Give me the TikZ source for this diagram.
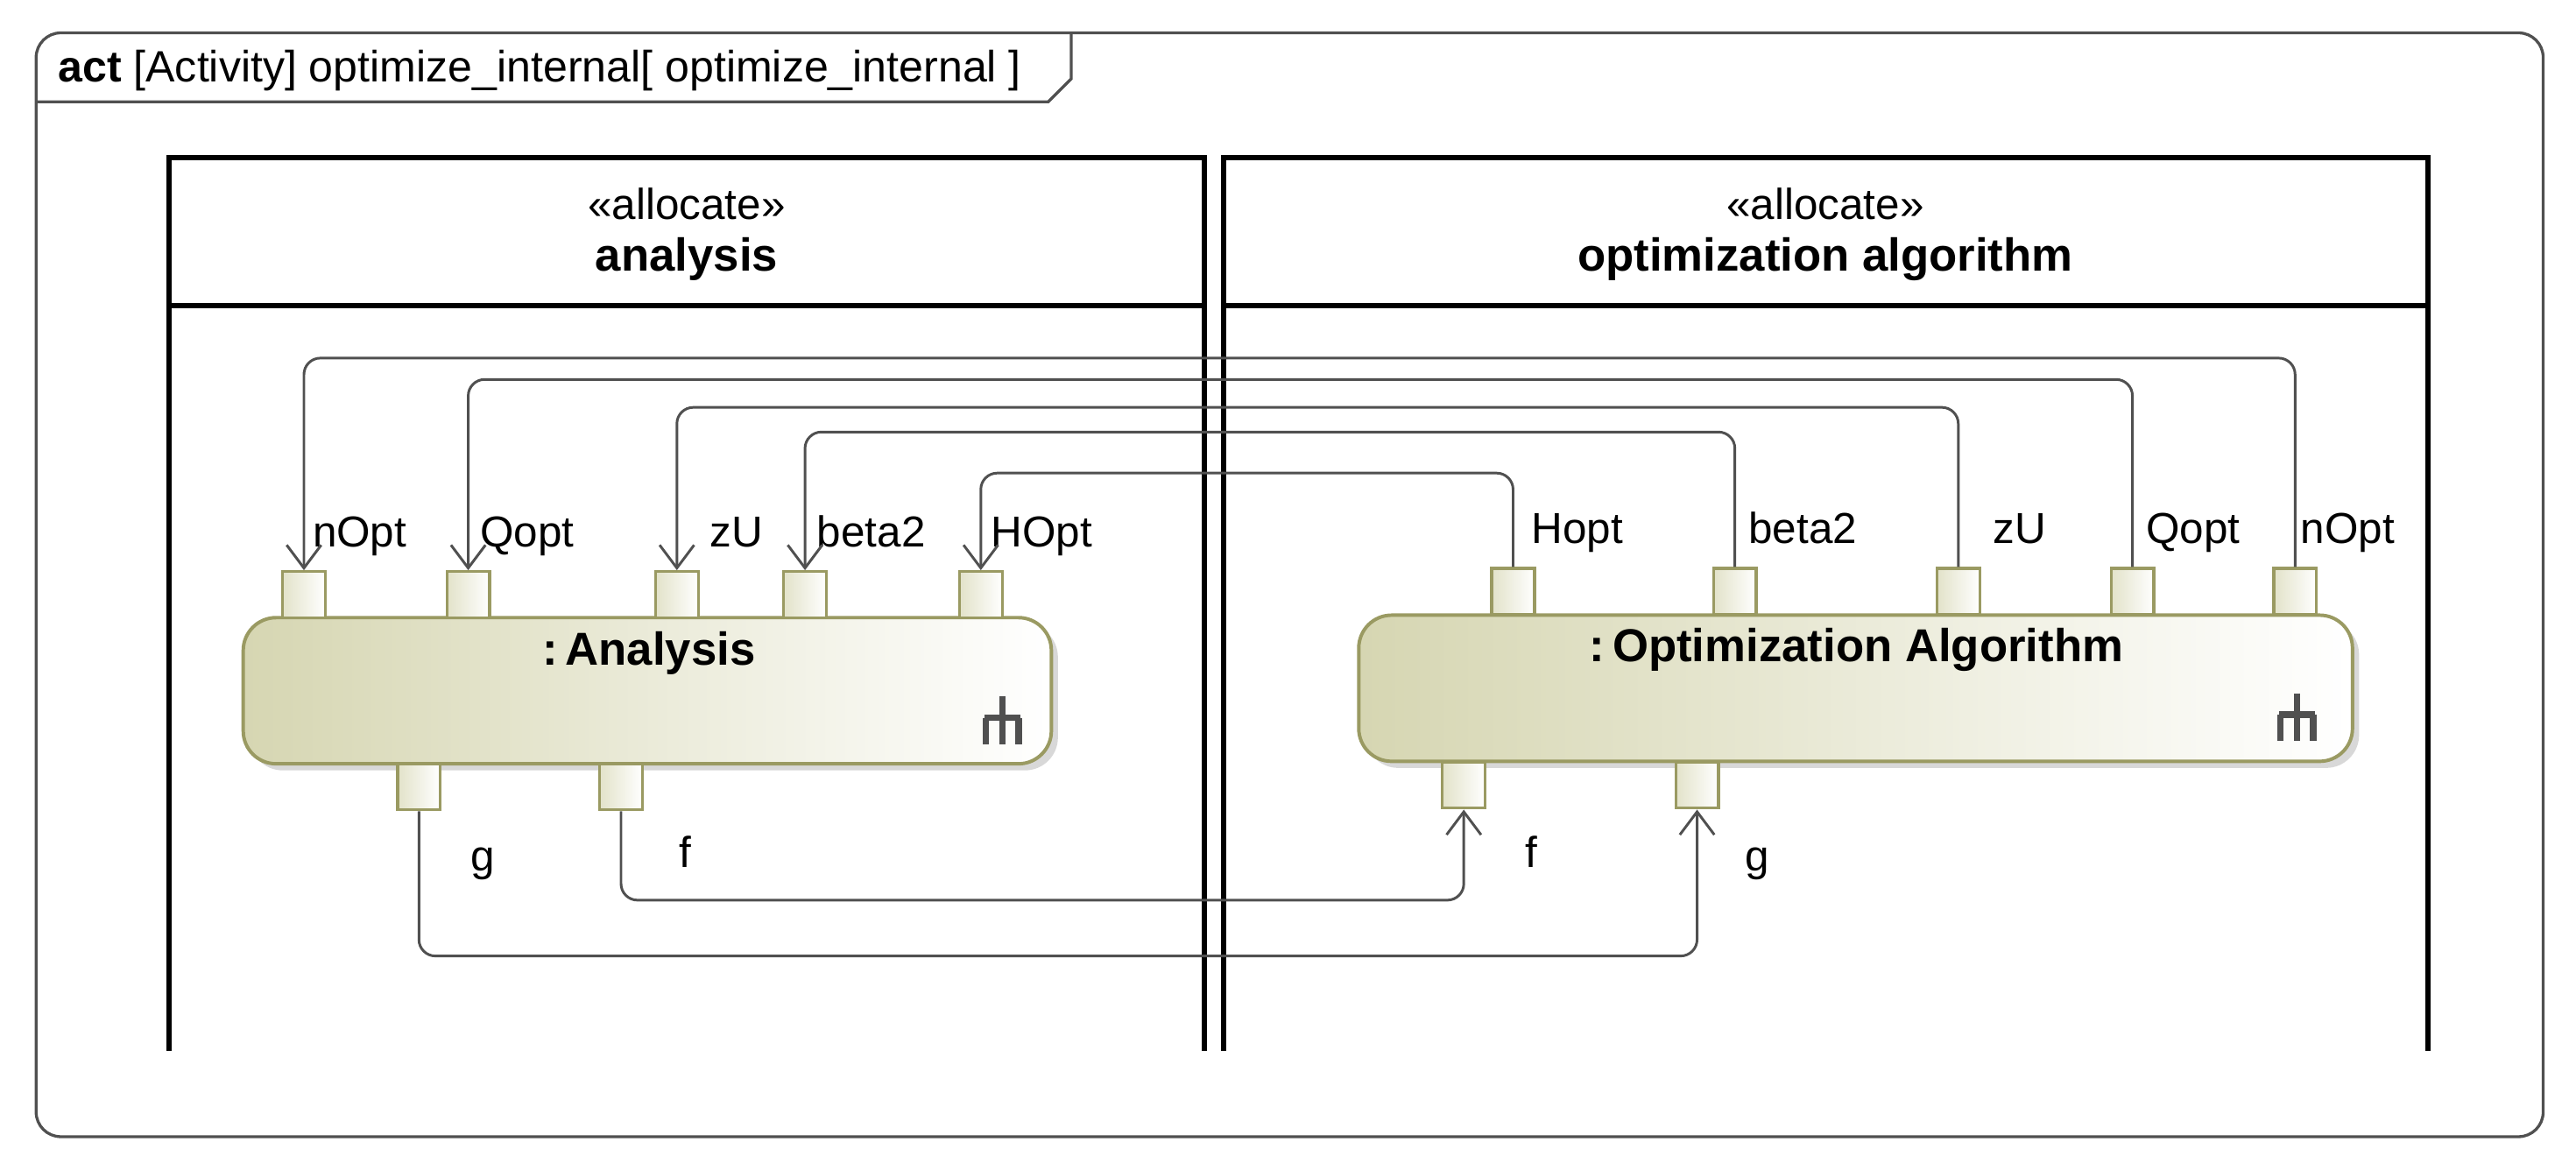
\documentclass[tikz,border=0pt]{standalone}
\usepackage{fontspec}
\setmainfont{Liberation Sans}
\usetikzlibrary{arrows.meta,shadows,positioning}

\definecolor{pinline}{RGB}{154,154,98}
\definecolor{pinfill}{RGB}{214,214,178}
\definecolor{frameline}{RGB}{80,80,80}

\tikzset{
  action/.style={draw=pinline, line width=1.2pt, rounded corners=0.4cm,
    left color=pinfill, right color=white, minimum width=9.84cm, minimum height=1.78cm,
    drop shadow={shadow xshift=0.08cm, shadow yshift=-0.08cm, fill=black!30}},
  pin/.style={draw=pinline, line width=1pt, minimum width=0.52cm, minimum height=0.56cm,
    inner sep=0pt, left color=pinfill!70, right color=white},
  lbl/.style={font=\fontsize{15}{18}\selectfont, inner sep=0pt, anchor=base west},
  flow/.style={draw=frameline, line width=0.9pt, rounded corners=0.2cm,
    -{Straight Barb[length=0.28cm,width=0.42cm,line width=0.9pt]}},
  lane/.style={line width=1.8pt},
}

\begin{document}
\begin{tikzpicture}[x=0.02cm,y=-0.02cm]
  \useasboundingbox (0,0) rectangle (1568,711.8);
  % frame
  \draw[frameline, line width=1pt, rounded corners=0.3cm] (22,20) rectangle (1548,692);
  \draw[frameline, line width=1pt] (22,62) -- (638,62) -- (652,48) -- (652,20);
  \node[lbl, font=\fontsize{15.2}{18}\selectfont] (title) at (35,50) {\textbf{act} [Activity] optimize\_internal[ optimize\_internal ]};

  % swimlanes
  \draw[lane] (103,640) -- (103,96) -- (733,96) -- (733,640);
  \draw[lane] (103,186) -- (733,186);
  \draw[lane] (745,640) -- (745,96) -- (1478,96) -- (1478,640);
  \draw[lane] (745,186) -- (1478,186);
  \node[font=\fontsize{15}{18}\selectfont] (stA) at (418,124) {«allocate»};
  \node[font=\bfseries\fontsize{16}{19}\selectfont] (laneA) at (418,158) {analysis};
  \node[font=\fontsize{15}{18}\selectfont] (stO) at (1111,124) {«allocate»};
  \node[font=\bfseries\fontsize{16}{19}\selectfont] (laneO) at (1111,158) {optimization algorithm};

  % actions
  \node[action] (ana) at (394,420.5) {};
  \node[font=\bfseries\fontsize{16}{19}\selectfont, anchor=base] at (395,405) {:\,Analysis};
  \node[action, minimum width=12.1cm] (opt) at (1129.5,419) {};
  \node[font=\bfseries\fontsize{16}{19}\selectfont, anchor=base] at (1130,403) {:\,Optimization Algorithm};
  \foreach \cx/\cy in {610/440, 1398/438}{
    \draw[frameline, line width=2.2pt] (\cx,\cy-16) -- (\cx,\cy-3)
      (\cx-11,\cy-3) -- (\cx+11,\cy-3)
      (\cx-10,\cy-3) -- (\cx-10,\cy+13) (\cx,\cy-3) -- (\cx,\cy+13) (\cx+10,\cy-3) -- (\cx+10,\cy+13);
  }

  % pins
  \foreach \n/\x in {nOpt/185, Qopt/285, zU/412, beta/490, HOpt/597}
    \node[pin] (a\n) at (\x,362) {};
  \foreach \n/\x in {g/255, f/378}
    \node[pin] (a\n) at (\x,479) {};
  \foreach \n/\x in {HOpt/921, beta/1056, zU/1192, Qopt/1298, nOpt/1397}
    \node[pin] (o\n) at (\x,360) {};
  \foreach \n/\x in {f/891, g/1033}
    \node[pin] (o\n) at (\x,478) {};

  % pin labels
  \foreach \x/\t in {190/nOpt, 292/Qopt, 432/zU, 497/beta2, 603/HOpt}
    \node[lbl] at (\x,333) {\t};
  \foreach \x/\t in {932/Hopt, 1064/beta2, 1213/zU, 1306/Qopt, 1400/nOpt}
    \node[lbl] at (\x,331) {\t};
  \node[lbl] at (286,530) {g};
  \node[lbl] at (413,528) {f};
  \node[lbl] at (928,528) {f};
  \node[lbl] at (1062,530) {g};

  % object flows
  \foreach \n/\y in {nOpt/218, Qopt/231, zU/248, beta/263, HOpt/288}
    \draw[flow] (o\n.north) -- (o\n.north |- 0,\y) -- (a\n.north |- 0,\y) -- (a\n.north);
  \draw[flow] (af.south) -- (af.south |- 0,548) -- (of.south |- 0,548) -- (of.south);
  \draw[flow] (ag.south) -- (ag.south |- 0,582) -- (og.south |- 0,582) -- (og.south);
\end{tikzpicture}
\end{document}
